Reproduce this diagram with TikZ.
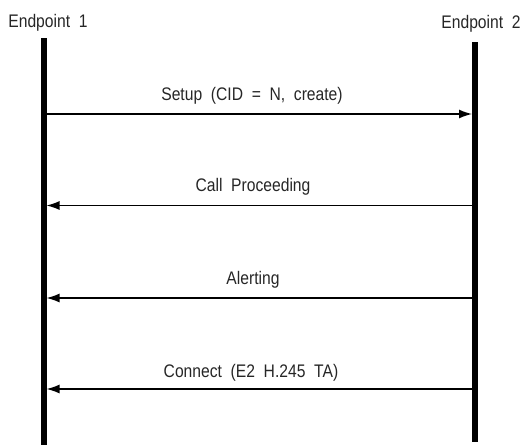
\documentclass[tikz,border=0pt]{standalone}
\usepackage{fontspec}
\setmainfont{Liberation Sans}[WordSpace=2, FakeStretch=0.86]
\usetikzlibrary{arrows.meta}
\tikzset{
  lifeline/.style={line width=6pt},
  msg/.style={line width=1.4pt, -{Latex[length=13pt, width=9pt]}, shorten >=3pt, shorten <=3pt},
  msglabel/.style={anchor=base, font=\fontsize{18.2}{20}\selectfont, inner sep=0pt, text=black!85},
  endlabel/.style={anchor=base, font=\fontsize{18.2}{20}\selectfont, inner sep=0pt, text=black!85},
}
\begin{document}
\begin{tikzpicture}[x=1pt, y=-1pt]
  \useasboundingbox (0,0) rectangle (523,445);
  % endpoints
  \node[endlabel] (ep1) at (48,27) {Endpoint 1};
  \node[endlabel] (ep2) at (481,28) {Endpoint 2};
  \coordinate (e1top) at (43.5,38);
  \coordinate (e1bot) at (43.5,445);
  \coordinate (e2top) at (475,42);
  \coordinate (e2bot) at (475,442);
  \draw[lifeline] (e1top) -- (e1bot);
  \draw[lifeline] (e2top) -- (e2bot);
  % Setup
  \coordinate (e1setup) at (43.5,114);
  \coordinate (e2setup) at (475,114);
  \draw[msg] (e1setup) -- (e2setup);
  \node[msglabel] (setup) at (252,100) {Setup (CID = N, create)};
  % Call Proceeding
  \coordinate (e1proc) at (43.5,205.5);
  \coordinate (e2proc) at (475,205.5);
  \draw[msg] (e2proc) -- (e1proc);
  \node[msglabel] (proc) at (253,191) {Call Proceeding};
  % Alerting
  \coordinate (e1alert) at (43.5,298);
  \coordinate (e2alert) at (475,298);
  \draw[msg] (e2alert) -- (e1alert);
  \node[msglabel] (alert) at (253,284) {Alerting};
  % Connect
  \coordinate (e1conn) at (43.5,389);
  \coordinate (e2conn) at (475,389);
  \draw[msg] (e2conn) -- (e1conn);
  \node[msglabel] (conn) at (251,377) {Connect (E2 H.245 TA)};
\end{tikzpicture}
\end{document}
